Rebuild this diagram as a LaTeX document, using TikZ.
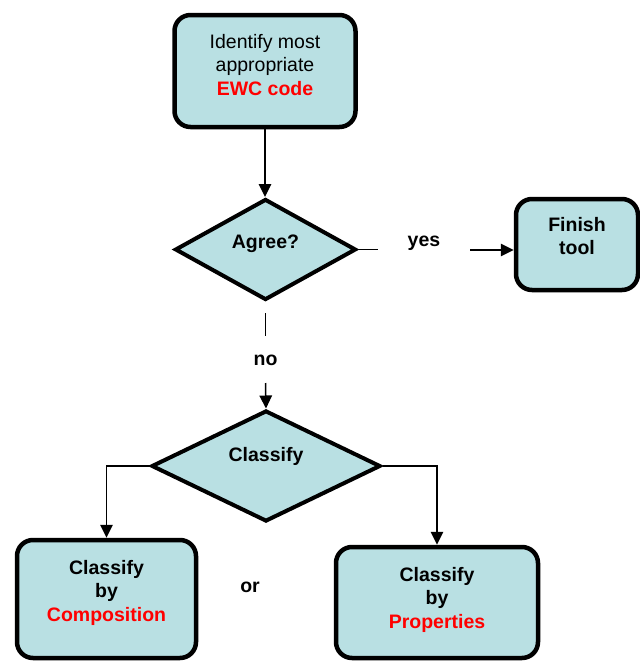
\documentclass[tikz,border=0pt]{standalone}
\usepackage{fontspec}
\setmainfont{Liberation Sans}
\usetikzlibrary{shapes.geometric, arrows.meta}
\definecolor{boxblue}{HTML}{B9E0E3}
\definecolor{codered}{HTML}{FF0000}
\newcommand{\boxfont}{\fontsize{19.5}{23.5}\selectfont}
\tikzstyle{bluebox} = [rectangle, rounded corners=16pt, line width=4.5pt, draw=black, fill=boxblue, align=center, inner sep=0pt, font=\boxfont\bfseries]
\tikzstyle{bluediamond} = [diamond, aspect=2, line width=4pt, draw=black, fill=boxblue, align=center, inner sep=0pt, font=\boxfont\bfseries]
\tikzstyle{label} = [font=\boxfont\bfseries]
\tikzstyle{arrow} = [line width=1.5pt, -{Triangle[length=13pt,width=12.5pt]}]
\tikzstyle{wire} = [line width=1.5pt]
\newcommand{\redtxt}[1]{\textcolor{codered}{\textbf{#1}}}

\begin{document}
\begin{tikzpicture}[x=1pt, y=1pt]
      \useasboundingbox (0,0) rectangle (640,-662);
      \node (ewc) [bluebox, font=\boxfont, minimum width=181pt, minimum height=112pt, text depth=13pt] at (265,-71) {Identify most\\appropriate\\\redtxt{EWC code}};
      \node (agree) [bluediamond, minimum width=181pt, minimum height=101pt, text depth=15pt] at (265.5,-249.5) {Agree?};
      \node (finish) [bluebox, minimum width=122pt, minimum height=91pt, text depth=17.5pt] at (577,-244.5) {Finish\\tool};
      \node (classify) [bluediamond, minimum width=229pt, minimum height=111pt, text depth=24pt] at (266,-466) {Classify};
      \node (comp) [bluebox, minimum width=179pt, minimum height=118pt, text depth=17pt] at (106.5,-599) {Classify\\by\\\redtxt{Composition}};
      \node (prop) [bluebox, minimum width=202pt, minimum height=111pt, text depth=10pt] at (437,-602.5) {Classify\\by\\\redtxt{Properties}};
      % labels
      \node (yes) [label] at (424,-243) {yes};
      \node (no) [label] at (265.5,-360) {no};
      \node (or) [label] at (250,-587) {or};
      % loose ends of the split connectors
      \coordinate (yes_a) at (378,-249.5);
      \coordinate (yes_b) at (470,-250);
      \coordinate (no_a) at (265.5,-313);
      \coordinate (no_b) at (265.5,-336);
      \coordinate (no_c) at (265.5,-383);
      \draw [arrow] (ewc.south) -- (ewc.south |- agree.north);
      \draw [wire] (agree.east) -- (yes_a);
      \draw [arrow] (yes_b) -- (yes_b -| finish.west);
      \draw [wire] (no_a) -- (no_b);
      \draw [arrow] (no_c) -- (classify.north);
      \draw [arrow] (classify.west) -| (comp.north);
      \draw [arrow] (classify.east) -| (prop.north);
    \end{tikzpicture}
\end{document}
